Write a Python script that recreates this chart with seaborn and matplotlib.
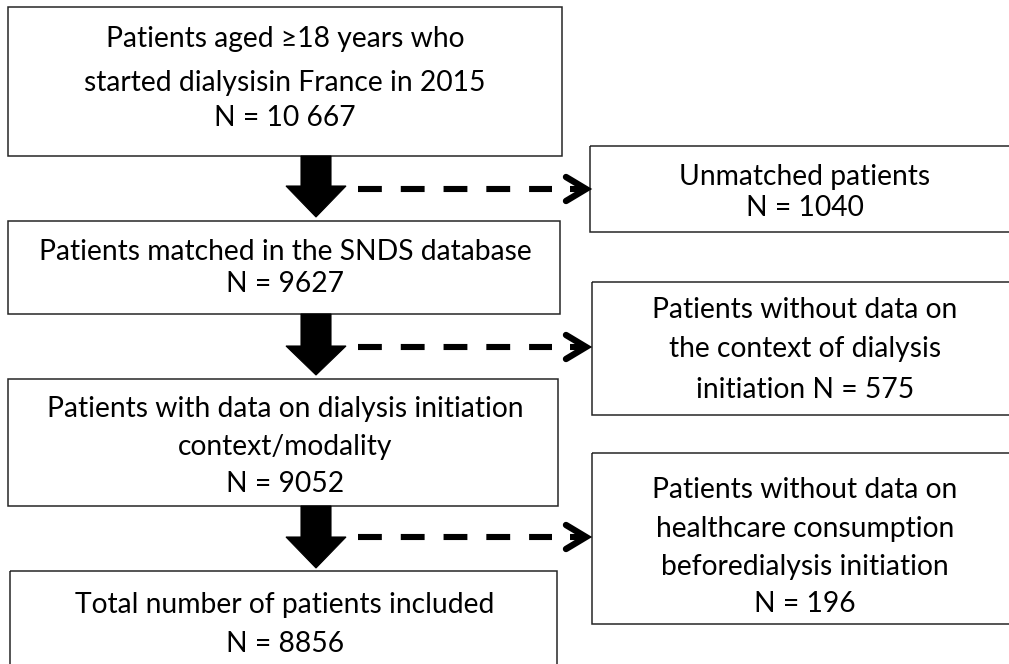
import matplotlib
matplotlib.use("Agg")
import matplotlib.pyplot as plt
from matplotlib.patches import Rectangle, Polygon
import seaborn as sns

# flow counts
main_labels = [
    "Patients aged \u226518 years who\nstarted dialysisin France in 2015",
    "Patients matched in the SNDS database",
    "Patients with data on dialysis initiation\ncontext/modality",
    "Total number of patients included",
]
main_counts = [10667, 9627, 9052, 8856]

excl_labels = [
    "Unmatched patients",
    "Patients without data on\nthe context of dialysis\ninitiation",
    "Patients without data on\nhealthcare consumption\nbeforedialysis initiation",
]
excl_counts = [1040, 575, 196]
excl_inline = [False, True, False]

# layout in pixels (x0, y0, x1, y1), y pointing down
main_boxes = [(8, 7, 562, 156), (8, 221, 560, 314), (8, 379, 558, 506), (10, 571, 557, 700)]
excl_boxes = [(590, 146, 1030, 232), (592, 282, 1030, 415), (592, 453, 1030, 624)]
main_line_y = [[37, 80, 116], [250, 282], [407, 445, 482], [602, 642]]
excl_line_y = [[175, 205], [307, 347, 387], [487, 527, 565, 602]]
arrow_y = [(156, 186, 217), (314, 346, 375), (506, 537, 568)]
dash_y = [189, 347, 537]


def fmt_n(n):
    s = str(n)
    if n >= 10000:
        s = f"{n:,}".replace(",", " ")
    return "N = " + s


sns.set_theme(style="white")
plt.rcParams["font.family"] = ["Lato", "DejaVu Sans"]

W, H = 1009, 664
fig = plt.figure(figsize=(W / 100, H / 100), dpi=100)
ax = fig.add_axes([0, 0, 1, 1])
ax.set_xlim(0, W)
ax.set_ylim(H, 0)
ax.axis("off")

# pick a font size so the widest line matches the reference width (~476 px)
probe = ax.text(0, 0, "Patients with data on dialysis initiation", fontsize=20)
fig.canvas.draw()
w = probe.get_window_extent().width
probe.remove()
fs = 20 * 476 / w

edge = "#262626"


def draw_box(box, lines, ys, xc):
    x0, y0, x1, y1 = box
    ax.add_patch(Rectangle((x0, y0), x1 - x0, y1 - y0, fill=False,
                           edgecolor=edge, linewidth=1.1))
    for line, y in zip(lines, ys):
        ax.text(xc, y, line, ha="center", va="center_baseline",
                fontsize=fs, color="black")


for lab, n, box, ys in zip(main_labels, main_counts, main_boxes, main_line_y):
    lines = lab.split("\n") + [fmt_n(n)]
    draw_box(box, lines, ys, 285)

for lab, n, inline, box, ys in zip(excl_labels, excl_counts, excl_inline,
                                   excl_boxes, excl_line_y):
    lines = lab.split("\n")
    if inline:
        lines[-1] = lines[-1] + " " + fmt_n(n)
    else:
        lines.append(fmt_n(n))
    draw_box(box, lines, ys, 805)

# thick down arrows
xc = 316
for top, neck, tip in arrow_y:
    pts = [(xc - 15, top), (xc + 15, top), (xc + 15, neck), (xc + 30, neck),
           (xc, tip), (xc - 30, neck), (xc - 15, neck)]
    ax.add_patch(Polygon(pts, closed=True, facecolor="black", edgecolor="black",
                         linewidth=0.8))

# dashed arrows to the exclusion boxes
for y in dash_y:
    ax.plot([358, 552], [y, y], color="black", linewidth=4.4,
            linestyle=(0, (3.9, 3.1)), solid_capstyle="butt",
            dash_capstyle="butt")
    ax.plot([566, 586, 566], [y - 12, y, y + 12], color="black", linewidth=4.6,
            solid_capstyle="round", solid_joinstyle="miter")
    ax.plot([570, 584], [y, y], color="black", linewidth=4.4,
            solid_capstyle="butt")

fig.savefig("out.png", dpi=100)
